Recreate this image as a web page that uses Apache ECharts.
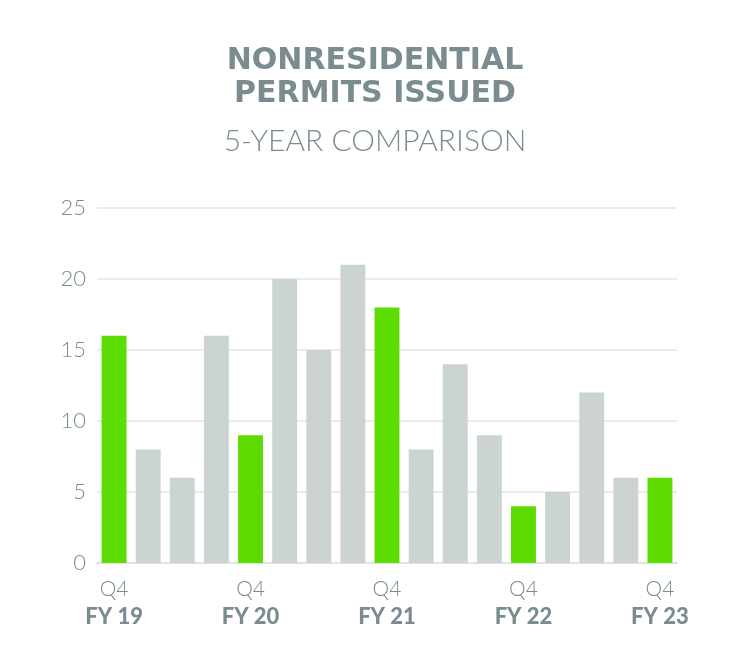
<!DOCTYPE html>
<html><head><meta charset="utf-8">
<script src="https://cdn.jsdelivr.net/npm/echarts@6/dist/echarts.min.js"></script>
<style>html,body{margin:0;padding:0;background:#fff}#c{width:750px;height:670px}</style>
</head><body><div id="c"></div>
<script>
const quarters = ["Q4","Q1","Q2","Q3","Q4","Q1","Q2","Q3","Q4","Q1","Q2","Q3","Q4","Q1","Q2","Q3","Q4"];
const fiscalYears = ["FY 19","FY 20","FY 20","FY 20","FY 20","FY 21","FY 21","FY 21","FY 21","FY 22","FY 22","FY 22","FY 22","FY 23","FY 23","FY 23","FY 23"];
const permits = [16, 8, 6, 16, 9, 20, 15, 21, 18, 8, 14, 9, 4, 5, 12, 6, 6];
const yTicks = [0, 5, 10, 15, 20, 25];
const titleLines = ["NONRESIDENTIAL", "PERMITS ISSUED"];
const subtitle = "5-YEAR COMPARISON";

const GREEN = "#5ddc02", GRAY = "#cbd4d1", TEXT = "#7a8c90";
const categories = quarters.map((q, i) => q + "|" + fiscalYears[i]);

const chart = echarts.init(document.getElementById('c'));
chart.setOption({
  animation: false,
  title: [
    { text: titleLines.join("\n"), left: 'center', top: 40,
      textStyle: { fontFamily: 'DejaVu Sans', fontWeight: 'bold', fontSize: 30, color: TEXT, lineHeight: 33 } },
    { text: subtitle, left: 'center', top: 121,
      textStyle: { fontFamily: 'Lato', fontWeight: 300, fontSize: 30, color: TEXT } }
  ],
  grid: { left: 97, right: 73, top: 208, bottom: 107 },
  xAxis: {
    type: 'category', data: categories,
    axisLine: { lineStyle: { color: '#dfe3e3', width: 2 } },
    axisTick: { show: false },
    axisLabel: {
      interval: 0, margin: 13,
      formatter: v => { const [q, fy] = v.split("|"); return q === "Q4" ? "{q|" + q + "}\n{fy|" + fy + "}" : ""; },
      rich: {
        q: { fontFamily: 'Lato', fontWeight: 300, fontSize: 21, color: TEXT, lineHeight: 27 },
        fy: { fontFamily: 'Lato', fontWeight: 900, fontSize: 22, color: TEXT, lineHeight: 27 }
      }
    }
  },
  yAxis: {
    type: 'value', min: yTicks[0], max: yTicks[yTicks.length - 1], interval: yTicks[1] - yTicks[0],
    axisLine: { show: false }, axisTick: { show: false },
    splitLine: { lineStyle: { color: '#e3e6e6', width: 1.5 } },
    axisLabel: { margin: 11, fontFamily: 'Lato', fontWeight: 300, fontSize: 22, color: TEXT }
  },
  series: [{
    type: 'bar', data: permits.map((v, i) => ({ value: v, itemStyle: { color: quarters[i] === "Q4" ? GREEN : GRAY } })),
    barCategoryGap: '27%'
  }]
});
</script></body></html>
